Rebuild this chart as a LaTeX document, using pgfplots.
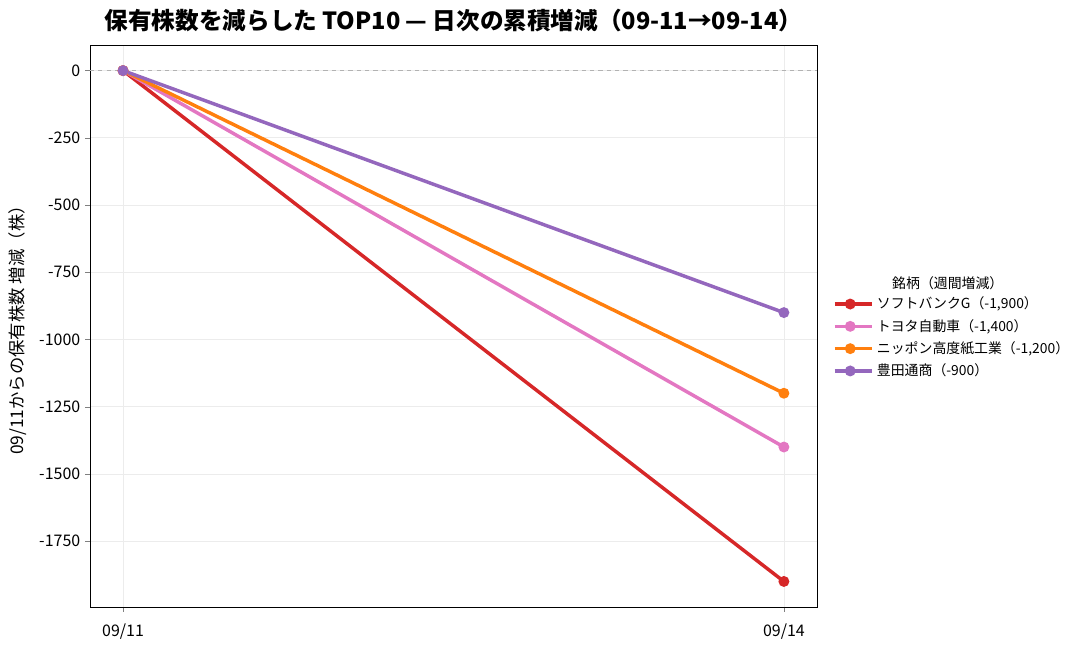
\documentclass[border=0pt]{standalone}
\usepackage{pgfplots}
\pgfplotsset{compat=1.18}
\usepackage{fontspec}
\setmainfont{Noto Sans CJK JP}
\definecolor{cred}{HTML}{D62728}
\definecolor{cpink}{HTML}{E377C2}
\definecolor{corange}{HTML}{FF7F0E}
\definecolor{cpurple}{HTML}{9467BD}
\begin{document}
\begin{tikzpicture}
\path[use as bounding box] (-64.8pt,-29.52pt) rectangle (717.84pt,437.04pt);
\begin{axis}[
  at={(0pt,0pt)}, anchor=south west,
  scale only axis,
  width=523.4pt, height=404.6pt,
  xmin=-0.05, xmax=1.05,
  ymin=-1995, ymax=95,
  xtick={0,1}, xticklabels={09/11,09/14},
  ytick={-1750,-1500,-1250,-1000,-750,-500,-250,0},
  yticklabel style={/pgf/number format/.cd,fixed,1000 sep={}},
  /pgf/number format/assume math mode=true,
  tick label style={font=\fontsize{11.5}{13}\selectfont},
  xticklabel style={yshift=-5pt},
  tick align=outside,
  xtick pos=bottom, ytick pos=left,
  major tick length=3.5pt,
  grid=major,
  grid style={gray!15, line width=0.5pt},
  axis line style={line width=0.6pt},
  clip=false,
  legend style={draw=none, fill=none, at={(rel axis cs:1.022,0.557)}, anchor=north west,
    font=\fontsize{10}{12}\selectfont, row sep=2pt, inner sep=0pt},
  legend cell align=left,
  legend image code/.code={\draw[#1, mark=none] (0pt,0pt) -- (22pt,0pt);
    \draw[#1, only marks] plot coordinates {(11pt,0pt)};
    \path (0pt,0pt) -- (27pt,0pt);},
  every axis plot/.append style={line width=2.5pt, mark=*, mark size=2.6pt, mark options={solid}},
]
\addplot[gray!60, dashed, line width=0.8pt, mark=none, forget plot] coordinates {(-0.05,0) (1.05,0)};
\addplot[cred] coordinates {(0,0) (1,-1900)};
\addlegendentry{ソフトバンクG（-1,900）}
\addplot[cpink] coordinates {(0,0) (1,-1400)};
\addlegendentry{トヨタ自動車（-1,400）}
\addplot[corange] coordinates {(0,0) (1,-1200)};
\addlegendentry{ニッポン高度紙工業（-1,200）}
\addplot[cpurple] coordinates {(0,0) (1,-900)};
\addlegendentry{豊田通商（-900）}
\node[font=\fontsize{10}{12}\selectfont] at (rel axis cs:1.180,0.5765) {銘柄（週間増減）};
\node[font=\fontsize{17}{19}\selectfont\bfseries] at ([yshift=18pt]rel axis cs:0.5,1) {保有株数を減らした TOP10 — 日次の累積増減（09-11→09-14）};
\node[rotate=90, font=\fontsize{12.5}{14}\selectfont] at ([xshift=-52pt]rel axis cs:0,0.5) {09/11からの保有株数 増減（株）};
\end{axis}
\end{tikzpicture}
\end{document}
